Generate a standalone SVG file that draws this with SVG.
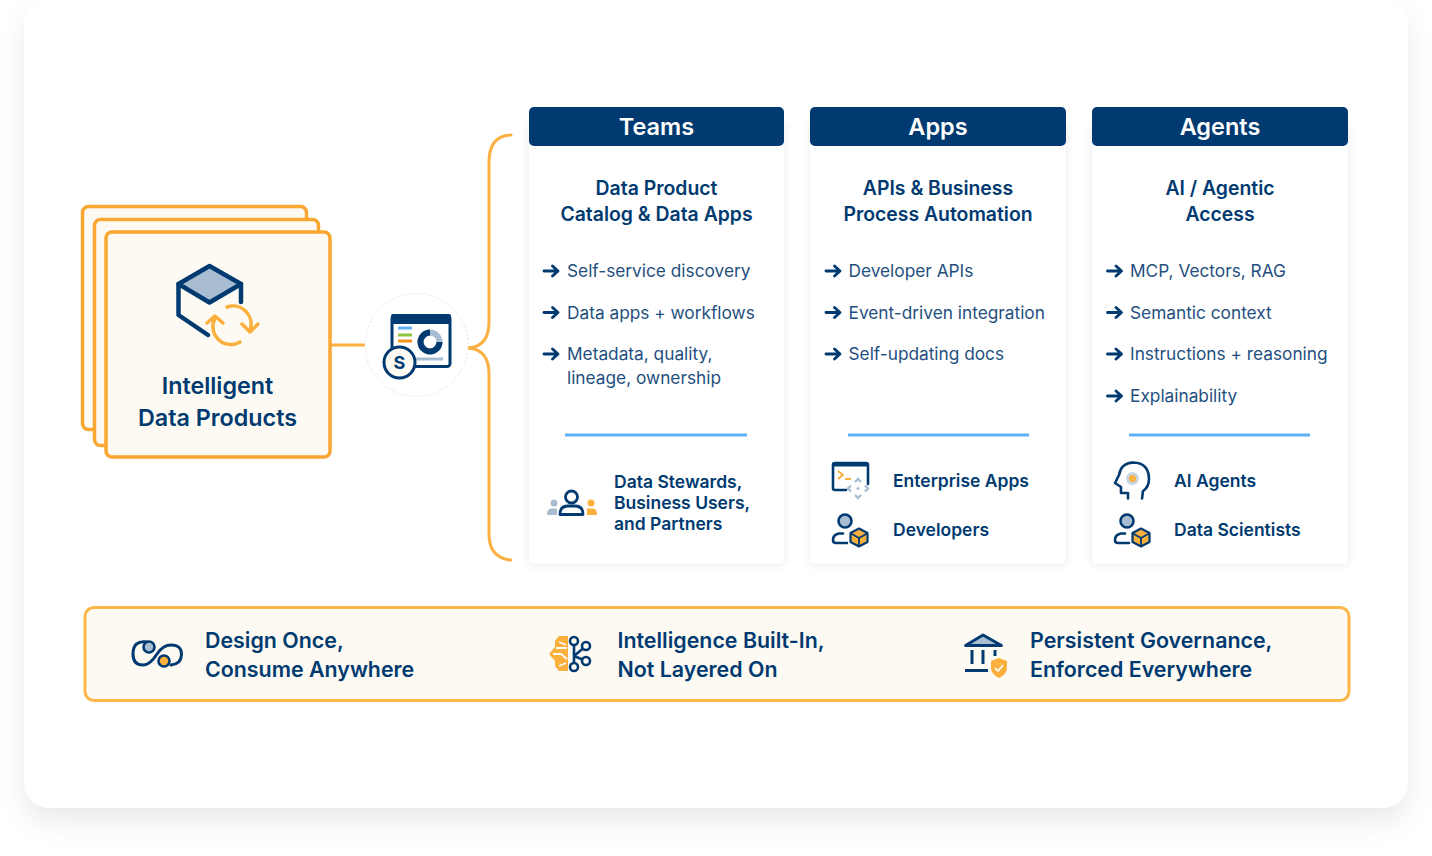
<svg xmlns="http://www.w3.org/2000/svg" width="1432" height="856" viewBox="0 0 1432 856">
<style>
text{font-family:Inter,"Liberation Sans",sans-serif;fill:#003a70}
.b{font-weight:600}
.hd{font-size:23.500px;font-weight:600;fill:#fff;text-anchor:middle}
.tt{font-size:19.400px;font-weight:600;text-anchor:middle}
.li{font-size:17.270px;font-weight:400;fill:#1f4f80}
.rl{font-size:17.500px;font-weight:600}
.ft{font-size:21.400px;font-weight:600}
.or{fill:none;stroke:#fbaf3c;stroke-width:3.500;stroke-linecap:round;stroke-linejoin:round}
.div{stroke:#5fb0f5;stroke-width:3}
.stack{fill:#fdfaf3;stroke:#faa732;stroke-width:3.500}
</style>
<defs>
<filter id="sh" x="-10%" y="-10%" width="120%" height="120%"><feDropShadow dx="0" dy="14" stdDeviation="13" flood-color="#000" flood-opacity="0.08"/></filter>
<filter id="cs" x="-15%" y="-15%" width="130%" height="130%"><feDropShadow dx="0" dy="1" stdDeviation="4" flood-color="#000" flood-opacity="0.09"/></filter>
<g id="ar"><path d="M0 0H13M8.500 -5L14 0L8.500 5" fill="none" stroke="#003a70" stroke-width="2.900" stroke-linecap="round" stroke-linejoin="round"/></g>
<g id="pc">
<circle cx="13" cy="-4" r="6.500" fill="#a9bdd2" stroke="#003a70" stroke-width="2.600"/>
<path d="M11 8.500H7Q1 9.500 1 15Q1 18 4 18H15" fill="none" stroke="#003a70" stroke-width="2.600" stroke-linecap="round"/>
<path d="M27 3.500L35.500 8V17L27 21.500L18.500 17V8Z" fill="#fbaf3c" stroke="#003a70" stroke-width="2.200" stroke-linejoin="round"/>
<path d="M19 8.500L27 13L35 8.500M27 13V21" fill="none" stroke="#003a70" stroke-width="1.800"/>
</g>
</defs>
<rect width="1432" height="856" fill="#fff"/>
<rect x="24" y="0" width="1384" height="808" rx="26" fill="#fff" filter="url(#sh)"/>

<g id="connectors" fill="none" stroke="#fbb040" stroke-width="3" stroke-linecap="round">
<path d="M331 345H365"/>
<path d="M469 348Q489 346 489 322V162Q489 136 511 135"/>
<path d="M469 348Q489 350 489 374V534Q489 558 511 560"/>
</g>

<g id="idp">
<rect class="stack" x="82.500" y="206.500" width="224" height="223" rx="6"/>
<rect class="stack" x="94.500" y="219.500" width="224" height="226" rx="6"/>
<rect class="stack" x="106" y="232" width="224" height="225" rx="6"/>
<path d="M178.500 284L209.500 266L241 284L209.500 302.500Z" fill="#a9bdd2" stroke="#003a70" stroke-width="4.500" stroke-linejoin="round"/>
<path d="M178.500 284V315L208 335M241 284V302" fill="none" stroke="#003a70" stroke-width="4.500" stroke-linecap="round" stroke-linejoin="round"/>
<path d="M227 307A18 18 0 0 1 250 330M242 324L250 332L258 324" class="or"/>
<path d="M240 342A18 18 0 0 1 215 318M207 323L215 316L223 323" class="or"/>
<text class="b" x="217.500" y="394" text-anchor="middle" style="font-size:23.300px">Intelligent</text>
<text class="b" x="217.500" y="426" text-anchor="middle" style="font-size:23.300px">Data Products</text>
</g>

<g id="hub">
<circle cx="416.500" cy="345" r="51.500" fill="#fff" stroke="#e6e6e6" stroke-width="1" stroke-dasharray="2 2"/>
<rect x="392" y="315.500" width="58" height="51" rx="3" fill="#fff" stroke="#003a70" stroke-width="3"/>
<rect x="391" y="314" width="60" height="10" rx="2" fill="#003a70"/>
<path d="M398 328H412" stroke="#5fb0f5" stroke-width="3"/>
<path d="M398 335H412" stroke="#8fc63f" stroke-width="3"/>
<path d="M398 341H412" stroke="#f7941d" stroke-width="3"/>
<circle cx="430" cy="342" r="9.500" fill="none" stroke="#a9bdd2" stroke-width="6"/>
<path d="M430 332.500A9.500 9.500 0 1 0 439.500 342" fill="none" stroke="#003a70" stroke-width="6"/>
<path d="M416 359H443" stroke="#a9bdd2" stroke-width="3"/>
<circle cx="399.500" cy="362.500" r="15.500" fill="#fdfaf3" stroke="#003a70" stroke-width="3"/>
<text x="399.500" y="369" text-anchor="middle" font-weight="700" font-size="18">S</text>
</g>

<g id="teams">
<rect x="529" y="120" width="255" height="444" rx="6" fill="#fff" filter="url(#cs)"/>
<rect x="529" y="107" width="255" height="39" rx="5" fill="#003a70"/>
<text class="hd" x="656.500" y="135">Teams</text>
<text class="tt" x="656.500" y="195">Data Product</text>
<text class="tt" x="656.500" y="221">Catalog &amp; Data Apps</text>
<use href="#ar" x="544" y="271"/><text class="li" x="567" y="277">Self-service discovery</text>
<use href="#ar" x="544" y="312.500"/><text class="li" x="567" y="318.500">Data apps + workflows</text>
<use href="#ar" x="544" y="354"/><text class="li" x="567" y="360">Metadata, quality,</text>
<text class="li" x="567" y="384">lineage, ownership</text>
<line class="div" x1="565" y1="435" x2="747" y2="435"/>
<circle cx="554" cy="503" r="3.500" fill="#a9bdd2"/><path d="M547 515Q547 508.500 551 508.500H557V515Z" fill="#a9bdd2"/>
<circle cx="591" cy="503" r="3.500" fill="#fbaf3c"/><path d="M587 515V508.500H593Q597 508.500 597 515Z" fill="#fbaf3c"/>
<circle cx="571.500" cy="497" r="6" fill="none" stroke="#003a70" stroke-width="2.800"/>
<path d="M560 514.500Q560 506 568 506H575Q583 506 583 514.500Z" fill="none" stroke="#003a70" stroke-width="2.800" stroke-linejoin="round"/>
<text class="rl" x="614" y="488">Data Stewards,</text>
<text class="rl" x="614" y="509">Business Users,</text>
<text class="rl" x="614" y="530">and Partners</text>
</g>

<g id="apps">
<rect x="810" y="120" width="256" height="444" rx="6" fill="#fff" filter="url(#cs)"/>
<rect x="810" y="107" width="256" height="39" rx="5" fill="#003a70"/>
<text class="hd" x="938" y="135">Apps</text>
<text class="tt" x="938" y="195">APIs &amp; Business</text>
<text class="tt" x="938" y="221">Process Automation</text>
<use href="#ar" x="826" y="271"/><text class="li" x="848.500" y="277">Developer APIs</text>
<use href="#ar" x="826" y="312.500"/><text class="li" x="848.500" y="318.500">Event-driven integration</text>
<use href="#ar" x="826" y="354"/><text class="li" x="848.500" y="360">Self-updating docs</text>
<line class="div" x1="848" y1="435" x2="1029" y2="435"/>
<path d="M846 490H835Q833 490 833 488V465Q833 463 835 463H866Q868 463 868 465V484" fill="none" stroke="#003a70" stroke-width="2.600" stroke-linecap="round"/>
<path d="M833 465H868" stroke="#003a70" stroke-width="3"/>
<path d="M838 471L843 475L838 479" fill="none" stroke="#fbaf3c" stroke-width="2"/><path d="M845 479H851" stroke="#fbaf3c" stroke-width="2"/>
<path d="M855 482L858 479L861 482M855 495L858 498L861 495M851 485.500L848 488.500L851 491.500M865 485.500L868 488.500L865 491.500" fill="none" stroke="#a9bdd2" stroke-width="2.400"/>
<circle cx="858" cy="488.500" r="1.500" fill="#a9bdd2"/>
<use href="#pc" x="832" y="525"/>
<text class="rl" x="893" y="486.500">Enterprise Apps</text>
<text class="rl" x="893" y="535.500">Developers</text>
</g>

<g id="agents">
<rect x="1092" y="120" width="256" height="444" rx="6" fill="#fff" filter="url(#cs)"/>
<rect x="1092" y="107" width="256" height="39" rx="5" fill="#003a70"/>
<text class="hd" x="1220" y="135">Agents</text>
<text class="tt" x="1220" y="195">AI / Agentic</text>
<text class="tt" x="1220" y="221">Access</text>
<use href="#ar" x="1107.500" y="271"/><text class="li" x="1130" y="277">MCP, Vectors, RAG</text>
<use href="#ar" x="1107.500" y="312.500"/><text class="li" x="1130" y="318.500">Semantic context</text>
<use href="#ar" x="1107.500" y="354"/><text class="li" x="1130" y="360">Instructions + reasoning</text>
<use href="#ar" x="1107.500" y="396"/><text class="li" x="1130" y="402">Explainability</text>
<line class="div" x1="1129" y1="435" x2="1310" y2="435"/>
<path d="M1128 498.500V493H1121V487L1115 483L1119 475Q1121 463 1133 462.500Q1149 463 1149 479Q1149 487 1143 491L1142 498.500" fill="none" stroke="#003a70" stroke-width="2.600" stroke-linecap="round" stroke-linejoin="round"/>
<circle cx="1132.500" cy="478.500" r="6.500" fill="#c8d4e0"/>
<circle cx="1132.500" cy="478.500" r="3.500" fill="#fbaf3c"/>
<use href="#pc" x="1114" y="525"/>
<text class="rl" x="1174" y="486.500">AI Agents</text>
<text class="rl" x="1174" y="535.500">Data Scientists</text>
</g>

<g id="footer">
<rect x="85" y="607.500" width="1264" height="93" rx="9" fill="#fdfaf3" stroke="#fbb848" stroke-width="3"/>
<g id="f1">
<path d="M147 642Q133 640 133 654Q133 665 143 665Q150 665 157 654Q163 645 171 645Q182 645 181.500 655Q181 664 171 665" fill="none" stroke="#003a70" stroke-width="3" stroke-linecap="round"/>
<circle cx="149" cy="647" r="5.500" fill="#a9bdd2" stroke="#003a70" stroke-width="2.600"/>
<circle cx="164" cy="661" r="5.500" fill="#fbaf3c" stroke="#003a70" stroke-width="2.600"/>
<text class="ft" x="205" y="648">Design Once,</text>
<text class="ft" x="205" y="677">Consume Anywhere</text>
</g>
<g id="f2">
<path d="M568 636H559L555 641V647L549 654L555 661V666L559 671H568Z" fill="#fbaf3c"/>
<path d="M556 648H567M553 654H561L567 659M559 642L566 645M559 666L566 663" fill="none" stroke="#fdfaf3" stroke-width="1.800"/>
<path d="M574 644V667M574 656L586 646M574 656L586 661" fill="none" stroke="#003a70" stroke-width="2.600"/>
<circle cx="574" cy="641" r="4" fill="#fdfaf3" stroke="#003a70" stroke-width="2.600"/>
<circle cx="586" cy="646" r="4" fill="#fdfaf3" stroke="#003a70" stroke-width="2.600"/>
<circle cx="586" cy="661" r="4" fill="#fdfaf3" stroke="#003a70" stroke-width="2.600"/>
<circle cx="574" cy="667" r="4" fill="#fdfaf3" stroke="#003a70" stroke-width="2.600"/>
<text class="ft" x="617.500" y="648">Intelligence Built-In,</text>
<text class="ft" x="617.500" y="677">Not Layered On</text>
</g>
<g id="f3">
<path d="M965.500 645.500L983 635L1001.500 645.500Z" fill="#a9bdd2" stroke="#003a70" stroke-width="2.800" stroke-linejoin="round"/>
<path d="M972 650V664M983 650V664M995 650V656M965 670.500H988" fill="none" stroke="#003a70" stroke-width="3"/>
<path d="M999 658L1007 661V668Q1007 674 999 678Q991 674 991 668V661Z" fill="#fbaf3c"/>
<path d="M995 668L998 671L1003 665" fill="none" stroke="#fdfaf3" stroke-width="1.800"/>
<text class="ft" x="1030" y="648">Persistent Governance,</text>
<text class="ft" x="1030" y="677">Enforced Everywhere</text>
</g>
</g>
</svg>
